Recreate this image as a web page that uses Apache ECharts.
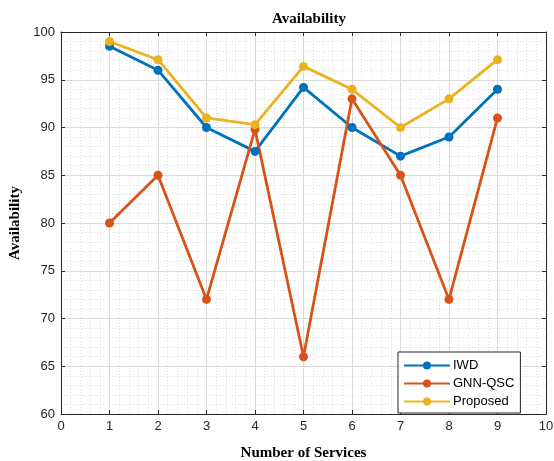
<!DOCTYPE html>
<html>
<head>
<meta charset="utf-8">
<script src="https://cdn.jsdelivr.net/npm/echarts@6/dist/echarts.min.js"></script>
<style>html,body{margin:0;padding:0;background:#fff}#c{width:554px;height:461px}</style>
</head>
<body>
<div id="c"></div>
<script>
const services = [1, 2, 3, 4, 5, 6, 7, 8, 9];
const iwd = [98.5, 96, 90, 87.5, 94.2, 90, 87, 89, 94];
const gnnQsc = [80, 85, 72, 89.8, 66, 93, 85, 72, 91];
const proposed = [99, 97.1, 91, 90.3, 96.4, 94, 90, 93, 97.1];
const xTicks = [0, 1, 2, 3, 4, 5, 6, 7, 8, 9, 10];
const yTicks = [60, 65, 70, 75, 80, 85, 90, 95, 100];

const pair = (xs, ys) => xs.map((x, i) => [x, ys[i]]);
const chart = echarts.init(document.getElementById('c'), null, {renderer: 'canvas'});
const axisColor = '#262626';
const gridLine = {show: true, lineStyle: {color: '#d9d9d9', width: 1}};
const minorLine = {show: true, lineStyle: {color: '#e0e0e0', width: 1, type: [1, 2]}};
function mkSeries(name, data, color) {
  return {
    name, type: 'line', data: pair(services, data),
    symbol: 'circle', symbolSize: 9,
    lineStyle: {color, width: 2.8},
    itemStyle: {color},
    emphasis: {disabled: true}
  };
}
chart.setOption({
  animation: false,
  title: {
    text: 'Availability', left: 304, top: 7, textAlign: 'center',
    textStyle: {fontFamily: 'Liberation Serif', fontWeight: 'bold', fontSize: 15, color: '#000'}
  },
  grid: {left: 61, right: 8, top: 32, bottom: 47, containLabel: false, outerBoundsMode: 'none'},
  xAxis: [{
    type: 'value', min: xTicks[0], max: xTicks[xTicks.length - 1], interval: 1,
    name: 'Number of Services', nameLocation: 'middle', nameGap: 32,
    nameTextStyle: {fontFamily: 'Liberation Serif', fontWeight: 'bold', fontSize: 15, color: '#000'},
    axisLine: {onZero: false, lineStyle: {color: axisColor}},
    axisTick: {inside: true, length: 4, lineStyle: {color: axisColor}},
    axisLabel: {fontFamily: 'Liberation Sans', fontSize: 13, color: axisColor, margin: 6},
    splitLine: gridLine,
    minorTick: {show: false, splitNumber: 5},
    minorSplitLine: minorLine
  }, {
    type: 'value', position: 'top', min: 0, max: 10, interval: 1,
    axisLine: {show: true, onZero: false, lineStyle: {color: axisColor}},
    axisTick: {inside: true, length: 4, lineStyle: {color: axisColor}},
    axisLabel: {show: false}, splitLine: {show: false}
  }],
  yAxis: [{
    type: 'value', min: yTicks[0], max: yTicks[yTicks.length - 1], interval: 5,
    name: 'Availability', nameLocation: 'middle', nameGap: 38,
    nameTextStyle: {fontFamily: 'Liberation Serif', fontWeight: 'bold', fontSize: 15, color: '#000'},
    axisLine: {show: true, onZero: false, lineStyle: {color: axisColor}},
    axisTick: {show: true, inside: true, length: 4, lineStyle: {color: axisColor}},
    axisLabel: {fontFamily: 'Liberation Sans', fontSize: 13, color: axisColor, margin: 6},
    splitLine: gridLine,
    minorTick: {show: false, splitNumber: 5},
    minorSplitLine: minorLine
  }, {
    type: 'value', position: 'right', min: 60, max: 100, interval: 5,
    axisLine: {show: true, onZero: false, lineStyle: {color: axisColor}},
    axisTick: {show: true, inside: true, length: 4, lineStyle: {color: axisColor}},
    axisLabel: {show: false}, splitLine: {show: false}
  }],
  legend: {
    orient: 'vertical', left: 398, top: 352,
    backgroundColor: '#fff', borderColor: axisColor, borderWidth: 1,
    padding: [7, 6, 5, 5], itemGap: 5, itemWidth: 46, itemHeight: 10,
    textStyle: {fontFamily: 'Liberation Sans', fontSize: 13, color: '#000', padding: [0, 0, 0, -2]},
    data: ['IWD', 'GNN-QSC', 'Proposed']
  },
  series: [
    mkSeries('IWD', iwd, '#0072BD'),
    mkSeries('GNN-QSC', gnnQsc, '#D95319'),
    mkSeries('Proposed', proposed, '#EDB120')
  ]
});
</script>
</body>
</html>
